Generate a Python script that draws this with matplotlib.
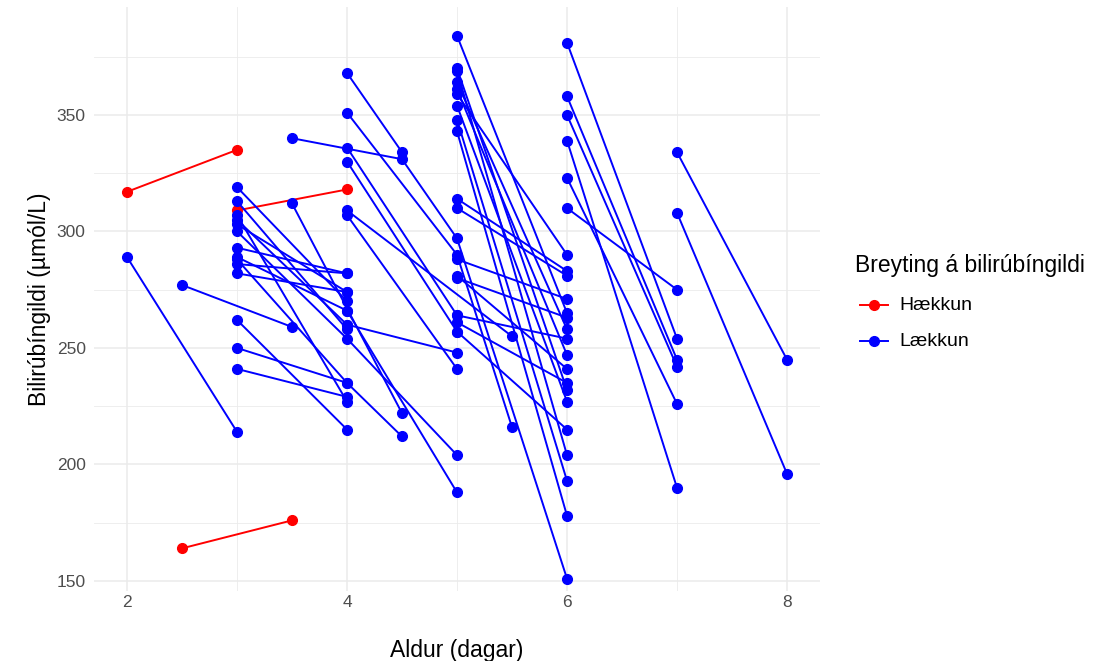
import pandas as pd
import matplotlib
matplotlib.use('Agg')
import matplotlib.pyplot as plt
from matplotlib.lines import Line2D

plt.rcParams['font.family'] = ['Liberation Sans', 'DejaVu Sans']

# aldur (dagar) við hverja mælingu, ein undirlisti á hvern sjúkling
aldur = [
    [2, 3], [3, 4], [2.5, 3.5], [2, 3], [2.5, 3.5],
    [3.5, 4.5, 5, 6], [4, 5, 5.5], [3.5, 4.5], [4, 4.5], [4, 5],
    [3, 4], [3, 4, 4.5], [3, 4], [3, 4], [3, 4],
    [3, 4], [3, 4], [3, 4], [3, 4], [3, 4, 5],
    [3, 4], [3, 4], [3, 4], [3, 4], [5, 6],
    [4, 5], [4, 5.5], [4, 5], [4, 5], [4, 5],
    [5, 6], [5, 6], [5, 6], [5, 6], [5, 6], [5, 6], [5, 6], [5, 6],
    [5, 6], [5, 6], [5, 6], [5, 6], [5, 6], [5, 6], [5, 6], [5, 6],
    [6, 7], [6, 7], [6, 7], [6, 7], [6, 7], [6, 7],
    [7, 8], [7, 8],
]
# bilirúbíngildi (µmól/L), í sömu röð
gildi = [
    [317, 335], [309, 318], [164, 176], [289, 214], [277, 259],
    [340, 331, 297, 151], [351, 290, 216], [312, 222], [368, 334], [336, 264],
    [262, 215], [250, 235, 212], [241, 229], [288, 235], [319, 270],
    [313, 258], [307, 227], [305, 260], [303, 274], [300, 254, 204],
    [293, 282], [289, 266], [286, 282], [282, 274], [281, 241],
    [330, 257], [309, 255], [307, 241], [266, 188], [260, 248],
    [384, 265], [370, 232], [369, 204], [364, 258], [361, 247], [359, 290], [354, 227], [348, 193],
    [343, 178], [314, 283], [310, 281], [288, 271], [280, 263], [264, 254], [261, 235], [257, 215],
    [381, 254], [358, 245], [350, 242], [339, 190], [323, 226], [310, 275],
    [334, 245], [308, 196],
]

rows = []
for i, (a, g) in enumerate(zip(aldur, gildi)):
    for ai, gi in zip(a, g):
        rows.append({'sjuklingur': i, 'aldur': ai, 'gildi': gi})
df = pd.DataFrame(rows)

litir = {'Hækkun': '#FF0000', 'Lækkun': '#0000FF'}

fig = plt.figure(figsize=(11.07, 6.61), dpi=100)
ax = fig.add_axes([94 / 1107, 70 / 661, 726 / 1107, 584 / 661])

for sid, g in df.groupby('sjuklingur', sort=False):
    breyting = 'Hækkun' if g['gildi'].iloc[-1] > g['gildi'].iloc[0] else 'Lækkun'
    ax.plot(g['aldur'], g['gildi'], color=litir[breyting], lw=1.4,
            marker='o', ms=7, zorder=3)

ax.set_xlim(1.7, 8.3)
ax.set_ylim(145.7, 396.3)
ax.set_xticks([2, 4, 6, 8])
ax.set_xticks([3, 5, 7], minor=True)
ax.set_yticks([150, 200, 250, 300, 350])
ax.set_yticks([175, 225, 275, 325, 375], minor=True)
ax.grid(which='major', color='#EBEBEB', lw=1.1)
ax.grid(which='minor', color='#EBEBEB', lw=0.6)
ax.set_axisbelow(True)
for s in ax.spines.values():
    s.set_visible(False)
ax.tick_params(which='both', length=0, labelsize=12.5, labelcolor='#4D4D4D')
ax.tick_params(axis='x', pad=3)
ax.tick_params(axis='y', pad=6)

ax.set_xlabel('Aldur (dagar)', fontsize=16.5, labelpad=21)
ax.set_ylabel('Bilirúbíngildi (µmól/L)', fontsize=16.5, labelpad=4)

# skýringar (legend) teiknaðar beint á myndina
W, H = 1107, 661
fig.text(855 / W, 1 - 266 / H, 'Breyting á bilirúbíngildi', fontsize=16.5,
         va='center', ha='left')
for k, ypx in zip(['Hækkun', 'Lækkun'], [305, 341]):
    yf = 1 - ypx / H
    fig.add_artist(Line2D([860 / W, 888 / W], [yf, yf], color=litir[k], lw=1.4,
                          transform=fig.transFigure))
    fig.add_artist(Line2D([874 / W], [yf], color=litir[k], marker='o', ms=7,
                          transform=fig.transFigure))
    fig.text(899 / W, yf, k, fontsize=14, va='center', ha='left')

plt.savefig('out.png', dpi=100)
